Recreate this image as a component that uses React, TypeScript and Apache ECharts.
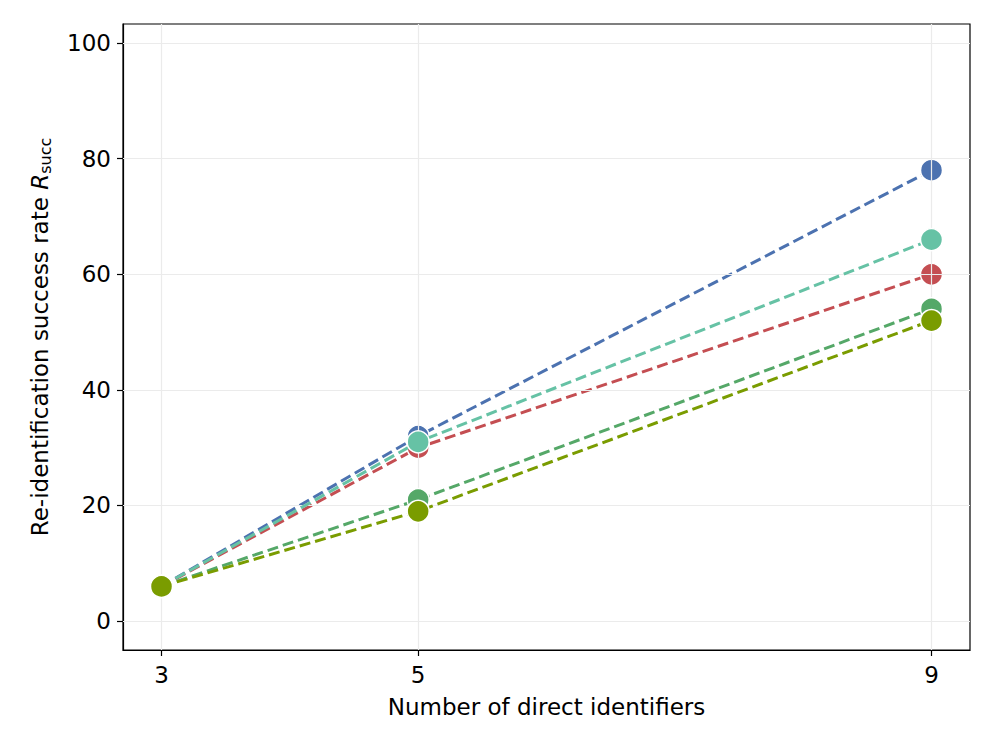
import React, { useEffect, useRef } from "react";
import * as echarts from "echarts";

const xValues = [3, 5, 9];
const xTicks = [3, 5, 9];
const yTicks = [0, 20, 40, 60, 80, 100];

const seriesNames = ["S1", "S2", "S3", "S4", "S5"];
const seriesColors = ["#4C72B0", "#C44E52", "#66C2A5", "#55A868", "#7A9C00"];
const seriesValues = [
  [6, 32, 78],
  [6, 30, 60],
  [6, 31, 66],
  [6, 21, 54],
  [6, 19, 52],
];

export default function App() {
  const ref = useRef<HTMLDivElement>(null);
  useEffect(() => {
    if (!ref.current) return;
    const chart = echarts.init(ref.current, undefined, { renderer: "svg" });
    const font = "DejaVu Sans";
    const fs = 23;
    const gridLine = { color: "#ebebeb", width: 1.2, type: "solid" as const };
    const series: any[] = seriesValues.map((vals, i) => ({
      name: seriesNames[i],
      type: "line",
      data: vals.map((v, j) => [xValues[j], v]),
      symbol: "circle",
      symbolSize: 22,
      showSymbol: true,
      lineStyle: { color: seriesColors[i], width: 3, type: [11, 5] },
      itemStyle: { color: seriesColors[i], borderColor: "#ffffff", borderWidth: 1.5 },
      z: 3 + i,
    }));
    series.unshift({
      type: "line",
      data: [],
      silent: true,
      z: 1,
      markLine: {
        silent: true,
        symbol: "none",
        label: { show: false },
        lineStyle: gridLine,
        animation: false,
        data: [
          ...yTicks.map((t) => ({ yAxis: t })),
          ...xTicks.map((t) => ({ xAxis: t })),
        ],
      },
    });
    chart.setOption({
      animation: false,
      backgroundColor: "#ffffff",
      grid: {
        left: 123,
        right: 26,
        top: 24,
        bottom: 97,
        show: true,
        borderColor: "#000000",
        borderWidth: 1.2,
        backgroundColor: "transparent",
      },
      xAxis: {
        type: "value",
        min: 2.7,
        max: 9.3,
        name: "Number of direct identifiers",
        nameLocation: "middle",
        nameGap: 45,
        nameTextStyle: { fontFamily: font, fontSize: fs, color: "#000" },
        axisLine: { show: true, onZero: false, lineStyle: { color: "#000", width: 1.2 } },
        axisTick: { show: true, customValues: xTicks, length: 6, lineStyle: { color: "#000", width: 1.2 } },
        axisLabel: {
          customValues: xTicks,
          fontFamily: font,
          fontSize: fs,
          color: "#000",
          margin: 13,
        },
        splitLine: { show: false },
      },
      yAxis: {
        type: "value",
        min: -5,
        max: 103.3,
        name: "{n|Re-identification success rate }{r|R}{s|succ}",
        nameLocation: "middle",
        nameRotate: 90,
        nameGap: 70,
        nameTextStyle: {
          fontFamily: font,
          fontSize: fs,
          color: "#000",
          rich: {
            n: { fontFamily: font, fontSize: fs, color: "#000" },
            r: { fontFamily: font, fontSize: fs, fontStyle: "italic", color: "#000" },
            s: { fontFamily: font, fontSize: 16, color: "#000", verticalAlign: "bottom", padding: [11, 0, 0, 0] },
          },
        },
        axisLine: { show: true, onZero: false, lineStyle: { color: "#000", width: 1.2 } },
        axisTick: { show: true, customValues: yTicks, length: 6, lineStyle: { color: "#000", width: 1.2 } },
        axisLabel: {
          customValues: yTicks,
          fontFamily: font,
          fontSize: fs,
          color: "#000",
          margin: 12,
        },
        splitLine: { show: false },
      },
      series,
    });
    return () => chart.dispose();
  }, []);
  return (
    <div
      ref={ref}
      style={{ position: "fixed", left: 0, top: 0, width: 996, height: 747, background: "#fff" }}
    />
  );
}
